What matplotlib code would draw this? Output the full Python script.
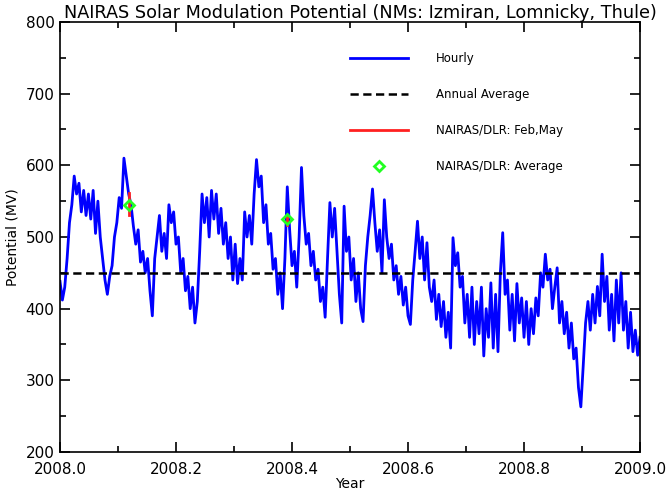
"""
NAIRAS solar modulation potential, 2008
"""
import matplotlib
matplotlib.use("Agg")
import matplotlib.pyplot as plt
import numpy as np
from matplotlib.ticker import MultipleLocator

# hourly potential (MV), evenly spaced over 2008
hourly = [
    438, 412, 430, 470, 520,
    545, 585, 560, 575, 535, 565, 530, 560, 525, 565,
    505, 550, 500, 470, 440, 420, 445, 460, 500, 520,
    555, 540, 610, 585, 560, 545, 515, 490, 510, 465,
    480, 450, 470, 425, 390, 470, 500, 530, 480, 505,
    470, 545, 520, 535, 490, 500, 450, 470, 425, 445,
    400, 430, 380, 410, 480, 560, 520, 555, 500, 565,
    525, 560, 505, 540, 490, 520, 470, 500, 440, 490,
    435, 470, 440, 535, 500, 530, 490, 560, 608, 570,
    585, 520, 545, 490, 505, 455, 470, 420, 450, 400,
    470, 570, 510, 460, 480, 430, 500, 597, 530, 490,
    505, 460, 480, 440, 455, 410, 430, 388, 470, 548,
    500, 540, 480, 420, 380, 543, 480, 500, 440, 470,
    410, 450, 400, 382, 460, 500, 530, 567, 520, 480,
    510, 450, 552, 500, 470, 490, 440, 460, 420, 445,
    405, 430, 390, 378, 440, 480, 522, 470, 500, 440,
    492, 430, 410, 440, 385, 420, 375, 410, 360, 395,
    345, 499, 460, 478, 430, 445, 380, 420, 360, 430,
    350, 410, 365, 430, 334, 400, 360, 436, 345, 420,
    340, 450, 506, 420, 440, 370, 420, 355, 435, 380,
    415, 360, 410, 350, 400, 365, 415, 390, 450, 430,
    476, 440, 455, 400, 430, 457, 380, 410, 365, 395,
    345, 380, 330, 345, 290, 263, 320, 380, 410, 370,
    420, 380, 431, 390, 476, 410, 445, 370, 420, 355,
    440, 380, 450, 370, 410, 345, 395, 340, 370, 335,
    360,
]
annual_average = 450

# NAIRAS/DLR comparison (Feb, May)
dlr_years = [2008.119, 2008.392]
dlr_low = [531, 517]
dlr_high = [562, 530]
dlr_avg = [545, 525]

years = np.linspace(2008.0, 2009.0, len(hourly))

fig = plt.figure(figsize=(6.66, 4.92), dpi=100)
ax = fig.add_axes([0.0901, 0.0813, 0.8709, 0.874])

ax.plot(years, hourly, color="#0000ff", lw=2.0, label="Hourly", zorder=2)
ax.axhline(annual_average, color="black", lw=1.8, ls=(0, (3.3, 1.8)),
           label="Annual Average", zorder=3)
for x, lo, hi in zip(dlr_years, dlr_low, dlr_high):
    ax.plot([x, x], [lo, hi], color="#ff2020", lw=2, zorder=4)
ax.plot([], [], color="#ff2020", lw=2, label="NAIRAS/DLR: Feb,May")
ax.plot(dlr_years, dlr_avg, ls="none", marker="D", ms=5, mfc="none",
        mec="#22ff22", mew=2, label="NAIRAS/DLR: Average", zorder=5)

ax.set_xlim(2008.0, 2009.0)
ax.set_ylim(200, 800)
ax.xaxis.set_major_locator(MultipleLocator(0.2))
ax.xaxis.set_minor_locator(MultipleLocator(0.1))
ax.yaxis.set_major_locator(MultipleLocator(100))
ax.yaxis.set_minor_locator(MultipleLocator(50))
ax.xaxis.set_major_formatter(plt.FormatStrFormatter("%.1f"))
ax.tick_params(which="both", direction="in", top=True, right=True,
               labelsize=11, width=1.2)
ax.tick_params(which="major", length=7.2)
ax.tick_params(which="minor", length=4)
ax.tick_params(axis="x", pad=7)
ax.tick_params(axis="y", pad=4)
for s in ax.spines.values():
    s.set_linewidth(1.2)

ax.set_xlabel("Year", fontsize=10, labelpad=0)
ax.set_ylabel("Potential (MV)", fontsize=10, labelpad=4)
ax.set_title("NAIRAS Solar Modulation Potential (NMs: Izmiran, Lomnicky, Thule)",
             fontsize=12.7, x=0.517, pad=3)

ax.legend(loc="upper left", bbox_to_anchor=(0.5, 0.93), frameon=False,
          fontsize=8.5, handlelength=4.9, handletextpad=2.4, labelspacing=1.95,
          borderpad=0, borderaxespad=0)

fig.savefig("out.png", dpi=100)
